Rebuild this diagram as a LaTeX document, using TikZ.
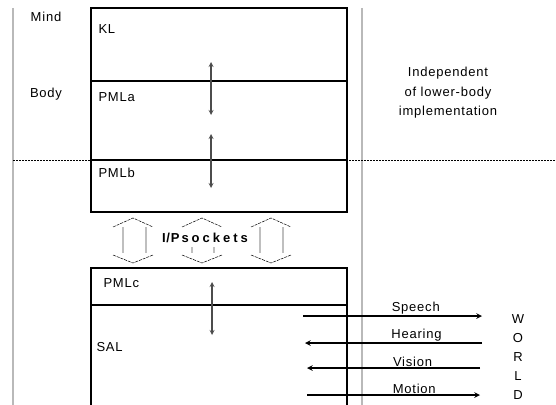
\documentclass[tikz,border=0pt]{standalone}
\usepackage{fontspec}
\setmainfont{Liberation Sans}[LetterSpace=6]

\begin{document}
\begin{tikzpicture}[x=1pt,y=-1pt,>=stealth,font=\fontsize{13}{15}\selectfont,
    box/.style={line width=1.5pt},
    guide/.style={gray!55,line width=1.5pt},
    split/.style={line width=0.5pt,dash pattern=on 2pt off 1pt},
    link/.style={<->,black!70,line width=1.2pt},
    io/.style={->,line width=1.5pt},
    lab/.style={above,inner sep=1pt},
    sock/.style={line width=0.5pt,dash pattern=on 3pt off 1pt},
    bar/.style={gray!50,line width=1.5pt}]
  \clip (0,0) rectangle (556,404);
  \draw[guide] (13,8) -- (13,410);
  \draw[guide] (362,8) -- (362,410);
  \draw[split] (13,160) -- (556,160);
  \draw[box] (91,8) rectangle (347,212);
  \draw[box] (91,81) -- (347,81);
  \draw[box] (91,160) -- (347,160);
  \draw[box] (91,410) -- (91,268) -- (347,268) -- (347,410);
  \draw[box] (91,305) -- (347,305);
  \node (mind) at (46,17) {Mind};
  \node (body) at (46,94) {Body};
  \node[anchor=west] (kl) at (95,29) {KL};
  \node[anchor=west] (pmla) at (95,97) {PMLa};
  \node[anchor=west] (pmlb) at (95,173) {PMLb};
  \node[anchor=west] (pmlc) at (100,283) {PMLc};
  \node[anchor=west] (sal) at (93,347) {SAL};
  \coordinate (klend) at (211,62);
  \coordinate (pmlatop) at (211,115);
  \coordinate (pmlaend) at (211,134);
  \coordinate (pmlbtop) at (211,188);
  \coordinate (pmlcend) at (212,282);
  \coordinate (saltop) at (212,335);
  \draw[link] (klend) -- (pmlatop);
  \draw[link] (pmlaend) -- (pmlbtop);
  \draw[link] (pmlcend) -- (saltop);
  \draw[sock] (113,227) -- (133,218) -- (153,227) (113,255) -- (133,263) -- (153,255);
  \draw[bar] (123,227) -- (123,253) (146,227) -- (146,253);
  \draw[sock] (182,227) -- (202,218) -- (222,227) (182,255) -- (202,263) -- (222,255);
  \draw[bar] (192,247) -- (192,253) (214,247) -- (214,253);
  \draw[sock] (251,227) -- (271,218) -- (291,227) (251,255) -- (271,263) -- (291,255);
  \draw[bar] (260,227) -- (260,253) (283,227) -- (283,253);
  \node (ipsock) at (205,238) {\bfseries I/P\hspace{2pt}s\hspace{3pt}o\hspace{3pt}c\hspace{3pt}k\hspace{3pt}e\hspace{3pt}t\hspace{3pt}s};
  \node[align=center,font=\fontsize{13}{19.5}\selectfont] (indep) at (448,93)
    {Independent\\of lower-body\\implementation};
  \coordinate (speechA) at (303,316);
  \coordinate (speechB) at (482,316);
  \coordinate (hearA) at (482,343);
  \coordinate (hearB) at (305,343);
  \coordinate (visA) at (480,368);
  \coordinate (visB) at (307,368);
  \coordinate (motA) at (307,395);
  \coordinate (motB) at (480,395);
  \draw[io] (speechA) -- node[lab,pos=.63] (speech) {Speech} (speechB);
  \draw[io] (hearA) -- node[lab,pos=.37] (hear) {Hearing} (hearB);
  \draw[io] (visA) -- node[lab,pos=.39] (vis) {Vision} (visB);
  \draw[io] (motA) -- node[lab,pos=.62] (mot) {Motion} (motB);
  \node[align=center,font=\fontsize{13}{19}\selectfont] (world) at (518,357) {W\\O\\R\\L\\D};
\end{tikzpicture}
\end{document}
